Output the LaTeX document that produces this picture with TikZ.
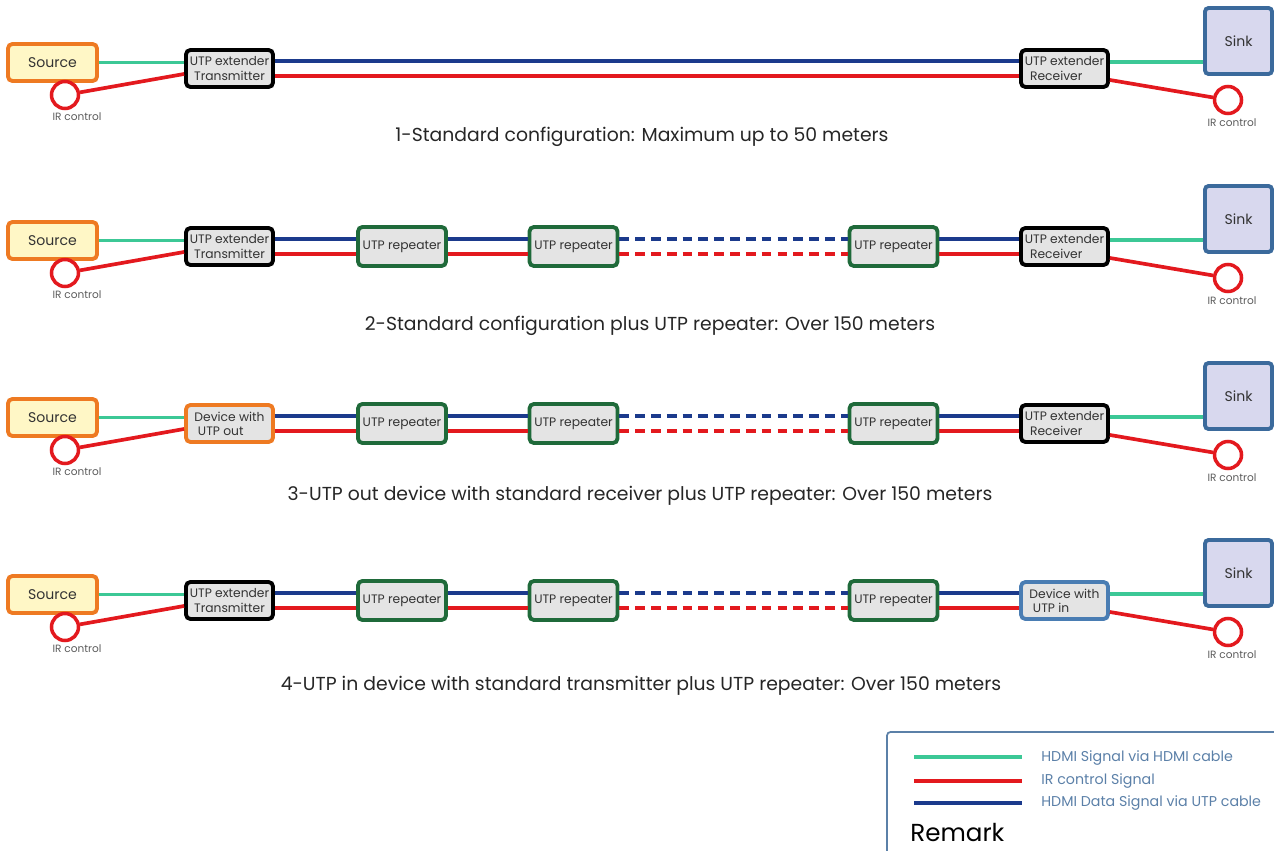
\documentclass[tikz,border=0pt]{standalone}
\usepackage{fontspec}
\setmainfont{Poppins}
\definecolor{hdmiteal}{HTML}{3CC896}
\definecolor{irred}{HTML}{E3191E}
\definecolor{utpblue}{HTML}{1B3A8C}
\definecolor{boxgray}{HTML}{E4E4E4}
\definecolor{srcorange}{HTML}{EE7A22}
\definecolor{srcfill}{HTML}{FFF7C6}
\definecolor{sinkblue}{HTML}{3B6A9C}
\definecolor{sinkfill}{HTML}{D8D8EE}
\definecolor{repgreen}{HTML}{1F6A3A}
\definecolor{devblue}{HTML}{4A7DB3}
\definecolor{legtext}{HTML}{5B80A8}
\definecolor{txtgray}{HTML}{333333}
\begin{document}
\begin{tikzpicture}[x=0.02cm,y=-0.02cm,
  box/.style={draw, rounded corners=2.5pt, line width=2.2pt, fill=boxgray, text=txtgray,
    minimum width=1.74cm, minimum height=0.74cm, inner sep=0pt,
    font=\fontsize{7}{8}\selectfont, align=center},
  txbox/.style={box, draw=black},
  repbox/.style={box, draw=repgreen, minimum width=1.76cm, minimum height=0.78cm},
  outbox/.style={box, draw=srcorange},
  inbox/.style={box, draw=devblue},
  srcbox/.style={draw=srcorange, fill=srcfill, rounded corners=2.5pt, line width=2.2pt, text=txtgray,
    minimum width=1.78cm, minimum height=0.74cm, inner sep=0pt, font=\fontsize{8}{9}\selectfont},
  sinkbox/.style={draw=sinkblue, fill=sinkfill, rounded corners=2pt, line width=2.2pt, text=txtgray,
    minimum width=1.34cm, minimum height=1.32cm, inner sep=0pt, font=\fontsize{8}{9}\selectfont},
  irc/.style={circle, draw=irred, line width=2pt, fill=white, minimum size=0.54cm, inner sep=0pt},
  irlab/.style={text=txtgray!80, font=\fontsize{6}{7}\selectfont, inner sep=0pt},
  caption/.style={text=black!85, font=\fontsize{10.7}{12}\selectfont, inner sep=0pt},
  hdmi/.style={draw=hdmiteal, line width=2.1pt},
  irl/.style={draw=irred, line width=2.1pt},
  utp/.style={draw=utpblue, line width=2.1pt},
  dsh/.style={dash pattern=on 5.5pt off 3.5pt},
  legtxt/.style={text=legtext, font=\fontsize{8.1}{9}\selectfont, anchor=west, inner sep=0pt}
]
\useasboundingbox (0,0) rectangle (1274,851);

% common left and right parts of every row
\foreach \r/\dy in {1/0,2/178,3/355,4/532}{
  \node[srcbox] (src\r) at (52.5,62.5+\dy) {Source};
  \node[irc] (irs\r) at (65,95+\dy) {};
  \node[irlab] (irsl\r) at (77,117+\dy) {IR control};
  \node[sinkbox] (sink\r) at (1238.5,41+\dy) {Sink};
  \node[irc] (irk\r) at (1228,100+\dy) {};
  \node[irlab] (irkl\r) at (1232,123+\dy) {IR control};
}

% row 1
\node[txbox] (L1) at (229.5,68.5) {UTP extender\\Transmitter};
\node[txbox, align=left] (R1) at (1064.5,68.5) {UTP extender\\\hspace*{3pt}Receiver};
\node[caption] (c1) at (642,137) {1-Standard configuration: Maximum up to 50 meters};

% row 2
\node[txbox] (L2) at (229.5,246.5) {UTP extender\\Transmitter};
\node[txbox, align=left] (R2) at (1064.5,246.5) {UTP extender\\\hspace*{3pt}Receiver};
\node[caption] (c2) at (650,326) {2-Standard configuration plus UTP repeater: Over 150 meters};

% row 3
\node[outbox, align=left] (L3) at (229.5,423.5) {Device with\\\hspace*{2pt}UTP out};
\node[txbox, align=left] (R3) at (1064.5,423.5) {UTP extender\\\hspace*{3pt}Receiver};
\node[caption] (c3) at (640,496) {3-UTP out device with standard receiver plus UTP repeater: Over 150 meters};

% row 4
\node[txbox] (L4) at (229.5,600.5) {UTP extender\\Transmitter};
\node[inbox, align=left] (R4) at (1064.5,600.5) {Device with\\\hspace*{2pt}UTP in};
\node[caption] (c4) at (641,686) {4-UTP in device with standard transmitter plus UTP repeater: Over 150 meters};

% repeaters
\foreach \r/\dy in {2/178,3/355,4/532}{
  \node[repbox] (rpa\r) at (402,68.5+\dy) {UTP repeater};
  \node[repbox] (rpb\r) at (573.5,68.5+\dy) {UTP repeater};
  \node[repbox] (rpc\r) at (893.5,68.5+\dy) {UTP repeater};
}

% connectors common to all rows
\foreach \r in {1,2,3,4}{
  \draw[hdmi] (src\r.east) -- (src\r.east -| L\r.west);
  \draw[irl] (irs\r) -- ([yshift=-0.11cm]L\r.west);
  \draw[hdmi] ([yshift=0.13cm]R\r.east) coordinate (t\r) -- (t\r -| sink\r.west);
  \draw[irl] ([yshift=-0.23cm]R\r.east) -- (irk\r);
}

% UTP links
\draw[utp] ([yshift=0.15cm]L1.east) -- ([yshift=0.15cm]R1.west);
\draw[irl] ([yshift=-0.15cm]L1.east) -- ([yshift=-0.15cm]R1.west);
\foreach \r in {2,3,4}{
  \draw[utp] ([yshift=0.15cm]L\r.east) -- ([yshift=0.15cm]rpa\r.west);
  \draw[irl] ([yshift=-0.15cm]L\r.east) -- ([yshift=-0.15cm]rpa\r.west);
  \draw[utp] ([yshift=0.15cm]rpa\r.east) -- ([yshift=0.15cm]rpb\r.west);
  \draw[irl] ([yshift=-0.15cm]rpa\r.east) -- ([yshift=-0.15cm]rpb\r.west);
  \draw[utp, dsh] ([yshift=0.15cm]rpb\r.east) -- ([yshift=0.15cm]rpc\r.west);
  \draw[irl, dsh] ([yshift=-0.15cm]rpb\r.east) -- ([yshift=-0.15cm]rpc\r.west);
  \draw[utp] ([yshift=0.15cm]rpc\r.east) -- ([yshift=0.15cm]R\r.west);
  \draw[irl] ([yshift=-0.15cm]rpc\r.east) -- ([yshift=-0.15cm]R\r.west);
}

% legend
\draw[draw=legtext, line width=1pt, rounded corners=2pt] (887,732) rectangle (1300,900);
\coordinate (la1) at (914,757); \coordinate (lb1) at (1022,757);
\coordinate (la2) at (914,781); \coordinate (lb2) at (1022,781);
\coordinate (la3) at (914,803); \coordinate (lb3) at (1022,803);
\draw[hdmi] (la1) -- (lb1);
\draw[irl] (la2) -- (lb2);
\draw[utp] (la3) -- (lb3);
\node[legtxt] (lt1) at (1041,758) {HDMI Signal via HDMI cable};
\node[legtxt] (lt2) at (1041,781) {IR control Signal};
\node[legtxt] (lt3) at (1041,803) {HDMI Data Signal via UTP cable};
\node[anchor=west, inner sep=0pt, font=\fontsize{14}{16}\selectfont] (rem) at (910,833) {Remark};
\end{tikzpicture}
\end{document}
